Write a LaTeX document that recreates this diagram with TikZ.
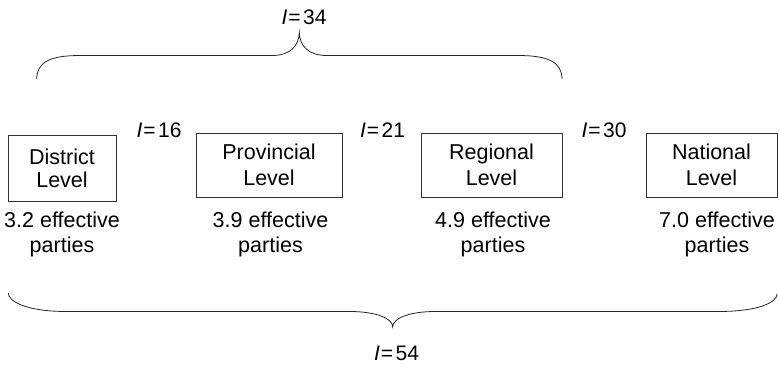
\documentclass[tikz,border=0pt]{standalone}
\usepackage{fontspec}
\setmainfont{Liberation Sans}
\begin{document}
\begin{tikzpicture}[x=1pt,y=-1pt,
  lvl/.style={draw=black!80, line width=0.8pt, inner sep=0pt, align=center},
  lvlfont/.style={font=\fontsize{21.5}{#1}\selectfont},
  eff/.style={inner sep=0pt, align=center, anchor=base, font=\fontsize{21.5}{25}\selectfont},
  ilab/.style={inner sep=0pt, anchor=base, font=\fontsize{21}{24}\selectfont},
  brace/.style={draw=black!85, line width=0.8pt}]
\useasboundingbox (0,0) rectangle (779,367);

% level boxes
\node[lvl, lvlfont=23, minimum width=108pt, minimum height=66pt] (dist) at (62,168) {District\\Level};
\node[lvl, lvlfont=25.5, minimum width=146pt, minimum height=64pt] (prov) at (269,165) {Provincial\\Level};
\node[lvl, lvlfont=25.5, minimum width=141pt, minimum height=64pt] (reg) at (491.5,165) {Regional\\Level};
\node[lvl, lvlfont=25.5, minimum width=131pt, minimum height=64pt] (nat) at (711.5,165) {National\\Level};

% effective parties (base anchor = baseline of the last line)
\node[eff] (e1) at (62,252) {3.2 effective\\parties};
\node[eff] (e2) at (270.5,252) {3.9 effective\\parties};
\node[eff] (e3) at (493,252) {4.9 effective\\parties};
\node[eff] (e4) at (717,252) {7.0 effective\\parties};

% I labels
\node[ilab] (i16) at (159,137) {\textit{I}\kern1pt=\kern2.5pt16};
\node[ilab] (i21) at (382.5,137) {\textit{I}\kern1pt=\kern2.5pt21};
\node[ilab] (i30) at (604,137) {\textit{I}\kern1pt=\kern2.5pt30};
\node[ilab] (i34) at (304,24) {\textit{I}\kern1pt=\kern2.5pt34};
\node[ilab] (i54) at (396.5,360) {\textit{I}\kern1pt=\kern2.5pt54};

% top brace
\coordinate (tl) at (36.7,79);
\coordinate (tt) at (299.3,32.5);
\coordinate (tr) at (562,79);
\draw[brace] (tl) .. controls (37,62) and (50,55.5) .. (80,55.5) -- (272,55.5)
  .. controls (290,55.5) and (299,46) .. (tt)
  .. controls (299.6,46) and (308.6,55.5) .. (326.6,55.5) -- (518,55.5)
  .. controls (548,55.5) and (562,62) .. (tr);

% bottom brace
\coordinate (bl) at (8.3,293);
\coordinate (bt) at (392.7,327);
\coordinate (br) at (777,294);
\draw[brace] (bl) .. controls (8.3,301) and (25,311.5) .. (67,311.5) -- (350,311.5)
  .. controls (375,311.5) and (392.7,318) .. (bt)
  .. controls (392.7,318) and (410,311.5) .. (435,311.5) -- (718,311.5)
  .. controls (760,311.5) and (777,302) .. (br);
\end{tikzpicture}
\end{document}
